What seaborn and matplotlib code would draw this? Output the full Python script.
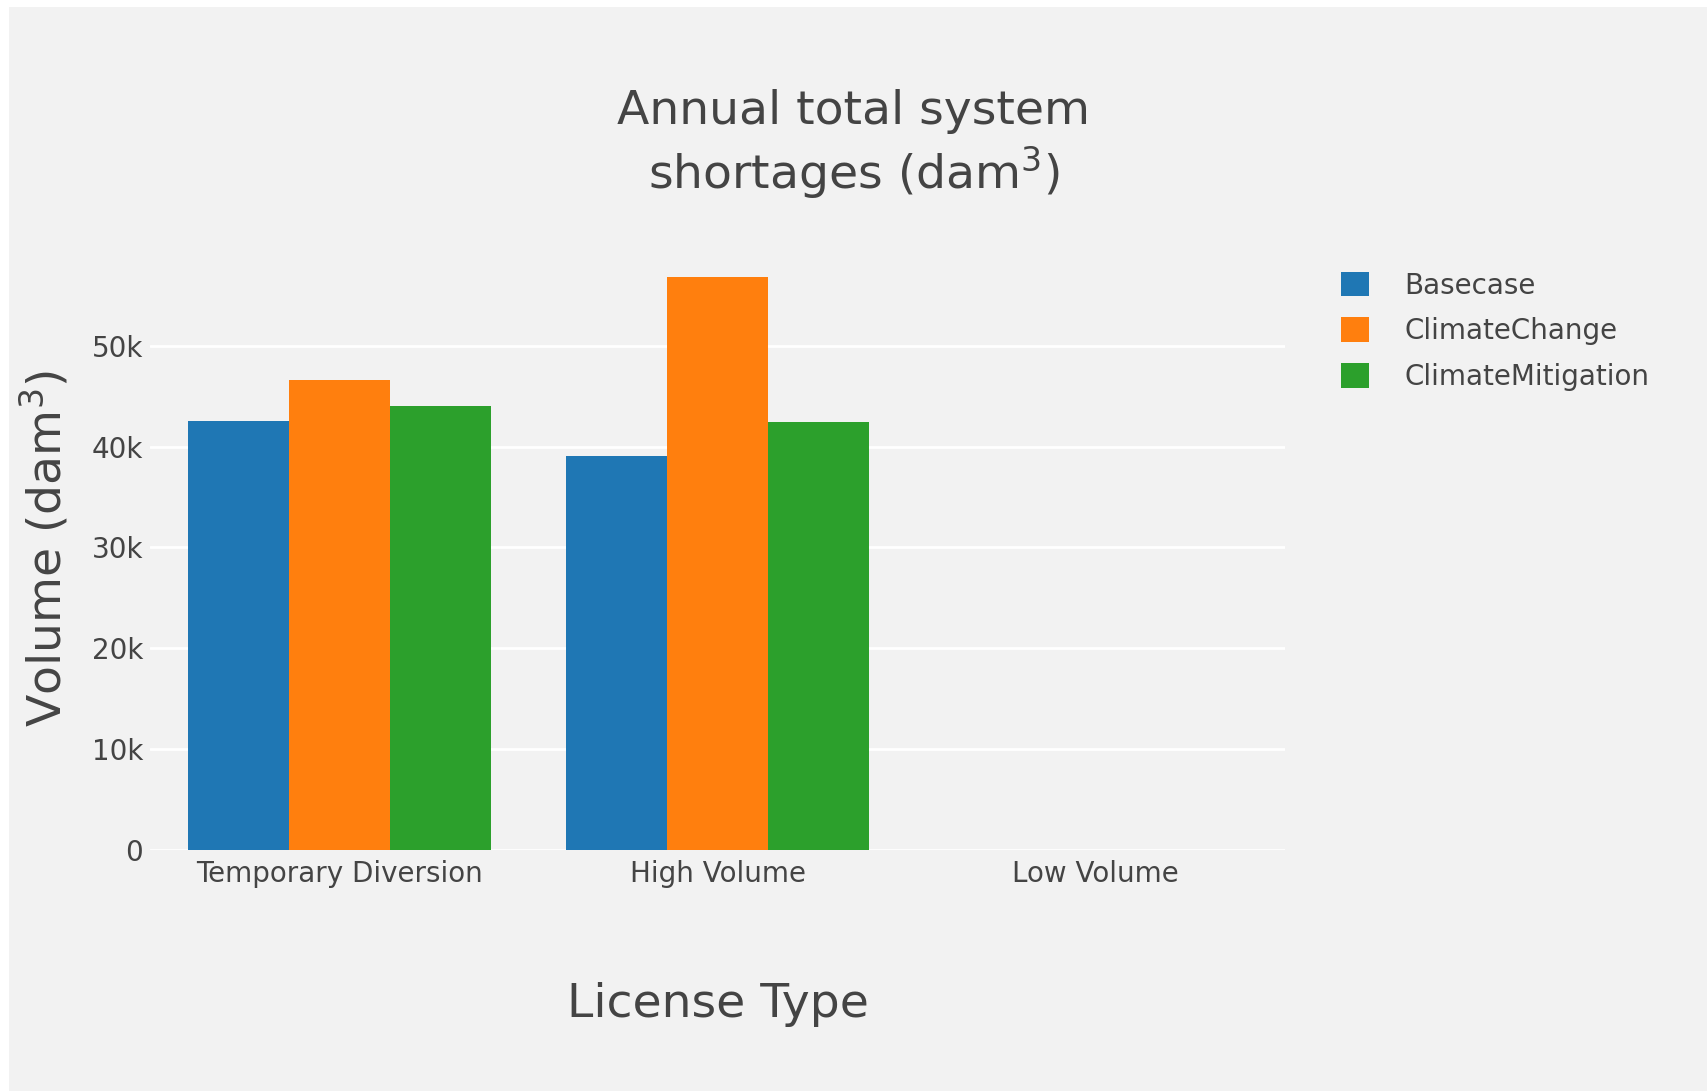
import pandas as pd
import matplotlib.pyplot as plt
import matplotlib.patches as mpatches
from matplotlib.ticker import FuncFormatter
import seaborn as sns

# data
license_types = ['Temporary Diversion', 'High Volume', 'Low Volume']
scenarios = ['Basecase', 'ClimateChange', 'ClimateMitigation']
basecase = [42500, 39100, 0]
climate_change = [46650, 56800, 0]
climate_mitigation = [44050, 42400, 0]
colors = ['#1f77b4', '#ff7f0e', '#2ca02c']

df = pd.DataFrame({
    'license': license_types * 3,
    'scenario': [s for s in scenarios for _ in license_types],
    'volume': basecase + climate_change + climate_mitigation,
})

sns.set_style('white')
plt.rcParams['font.family'] = ['DejaVu Sans']
plt.rcParams['mathtext.fontset'] = 'dejavusans'

bg = '#f2f2f2'
txt = '#444444'

fig = plt.figure(figsize=(17.07, 10.91), dpi=100, facecolor='white')
# grey card with a thin white margin on top/left like the screenshot
fig.patches.append(mpatches.Rectangle((9 / 1707, 0), 1, 1 - 7 / 1091,
                                      transform=fig.transFigure,
                                      facecolor=bg, edgecolor='none', zorder=-10))
ax = fig.add_axes([0.0879, 0.2209, 0.7528 - 0.0879, 0.7736 - 0.2209])
ax.set_facecolor(bg)

sns.barplot(data=df, x='license', y='volume', hue='scenario',
            palette=colors, saturation=1, width=0.8, ax=ax,
            errorbar=None, legend=False, linewidth=0, zorder=3)

ax.set_xlim(-0.5, 2.5)
ax.set_ylim(0, 59800)
ax.set_yticks([0, 10000, 20000, 30000, 40000, 50000])
ax.yaxis.set_major_formatter(FuncFormatter(lambda v, p: '0' if v == 0 else f'{int(v / 1000)}k'))
ax.grid(axis='y', color='white', linewidth=2, zorder=0)
ax.grid(axis='x', visible=False)
for s in ax.spines.values():
    s.set_visible(False)
ax.tick_params(axis='both', length=0, labelsize=20, colors=txt)
ax.tick_params(axis='y', pad=5)
ax.tick_params(axis='x', pad=7)

ax.set_xlabel('License Type', fontsize=34, color=txt, labelpad=68)
ax.set_ylabel('Volume (dam$^3$)', fontsize=34, color=txt, labelpad=15)

fig.text(0.5, 0.867, 'Annual total system\nshortages (dam$^3$)', ha='center', va='center',
         fontsize=34, color=txt, linespacing=1.22)

handles = [mpatches.Patch(facecolor=c, edgecolor='none', label=s) for c, s in zip(colors, scenarios)]
fig.legend(handles=handles, loc='upper left', bbox_to_anchor=(0.771, 0.774),
           frameon=False, fontsize=20, labelcolor=txt, handlelength=1.0,
           handleheight=1.0, handletextpad=1.27, labelspacing=0.64)

fig.savefig('out.png', dpi=100, facecolor=fig.get_facecolor())
